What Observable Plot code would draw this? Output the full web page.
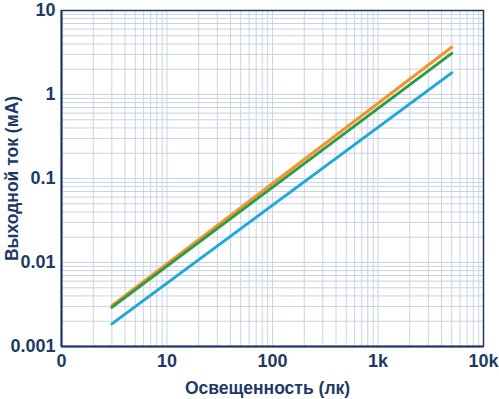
<!DOCTYPE html>
<html>
<head>
<meta charset="utf-8">
<script src="https://cdn.jsdelivr.net/npm/d3@7"></script>
<script src="https://cdn.jsdelivr.net/npm/@observablehq/plot@0.6"></script>
<style>
  html, body { margin: 0; padding: 0; background: #ffffff; }
  #chart { width: 499px; height: 399px; }
</style>
</head>
<body>
<div id="chart"></div>
<script>
// Tick values and labels
const xTicks = [1, 10, 100, 1000, 10000];
const xTickLabels = ["0", "10", "100", "1k", "10k"];
const yTicks = [0.001, 0.01, 0.1, 1, 10];
const yTickLabels = ["0.001", "0.01", "0.1", "1", "10"];

// Series (illuminance in lux, output current in mA)
const illuminance = [3, 5000];
const seriesOrange = [0.00306, 3.65];
const seriesGreen = [0.00292, 3.09];
const seriesBlue = [0.00186, 1.81];

const seriesNames = ["S1", "S2", "S3"];
const seriesColors = ["#f5922a", "#2a9d45", "#1ea7da"];

const data = [];
[seriesOrange, seriesGreen, seriesBlue].forEach((vals, s) => {
  vals.forEach((v, i) => data.push({series: seriesNames[s], x: illuminance[i], y: v}));
});

const xLabelOf = new Map(xTicks.map((t, i) => [t, xTickLabels[i]]));
const yLabelOf = new Map(yTicks.map((t, i) => [t, yTickLabels[i]]));

// Minor grid positions 1..9 per decade
const xGrid = [];
for (let d = 0; d < 4; d++) for (let m = 1; m <= 9; m++) xGrid.push(m * Math.pow(10, d));
const yGrid = [];
for (let d = -3; d < 1; d++) for (let m = 1; m <= 9; m++) yGrid.push(m * Math.pow(10, d));

const ink = "#1e3a64";

const chart = Plot.plot({
  width: 499,
  height: 399,
  marginLeft: 61,
  marginRight: 16,
  marginTop: 10,
  marginBottom: 53,
  style: {fontFamily: "'Liberation Sans', Arial, sans-serif", fontWeight: "bold", fontSize: "18px", color: ink, background: "#ffffff"},
  x: {type: "log", domain: [1, 10000]},
  y: {type: "log", domain: [0.001, 10]},
  color: {domain: seriesNames, range: seriesColors},
  marks: [
    Plot.ruleX(xGrid, {stroke: "#c9d3e2", strokeWidth: 1, strokeOpacity: 1}),
    Plot.ruleY(yGrid, {stroke: "#c9d3e2", strokeWidth: 1, strokeOpacity: 1}),
    Plot.axisX({ticks: xTicks, tickFormat: (d) => xLabelOf.get(d), tickSize: 0, tickPadding: 8,
      label: "Освещенность (лк)", labelAnchor: "center", labelArrow: "none", labelOffset: 47, fontSize: 18}),
    Plot.axisY({ticks: yTicks, tickFormat: (d) => yLabelOf.get(d), tickSize: 0, tickPadding: 6,
      label: "Выходной ток (мА)", labelAnchor: "center", labelArrow: "none", labelOffset: 56, fontSize: 18}),
    Plot.line(data, {x: "x", y: "y", z: "series", stroke: "series", strokeWidth: 3}),
    Plot.frame({stroke: ink, strokeWidth: 1.5}),
    Plot.ruleY([0.001], {stroke: ink, strokeWidth: 2}),
    Plot.ruleX([1], {stroke: ink, strokeWidth: 2})
  ]
});

chart.querySelectorAll("[aria-label='x-axis label'] text, [aria-label='y-axis label'] text").forEach(t => {
  t.setAttribute("font-size", "17.5px");
});
const xl = chart.querySelector("[aria-label='x-axis label'] text");
if (xl) xl.setAttribute("dx", "-5");
document.getElementById("chart").appendChild(chart);
</script>
</body>
</html>
